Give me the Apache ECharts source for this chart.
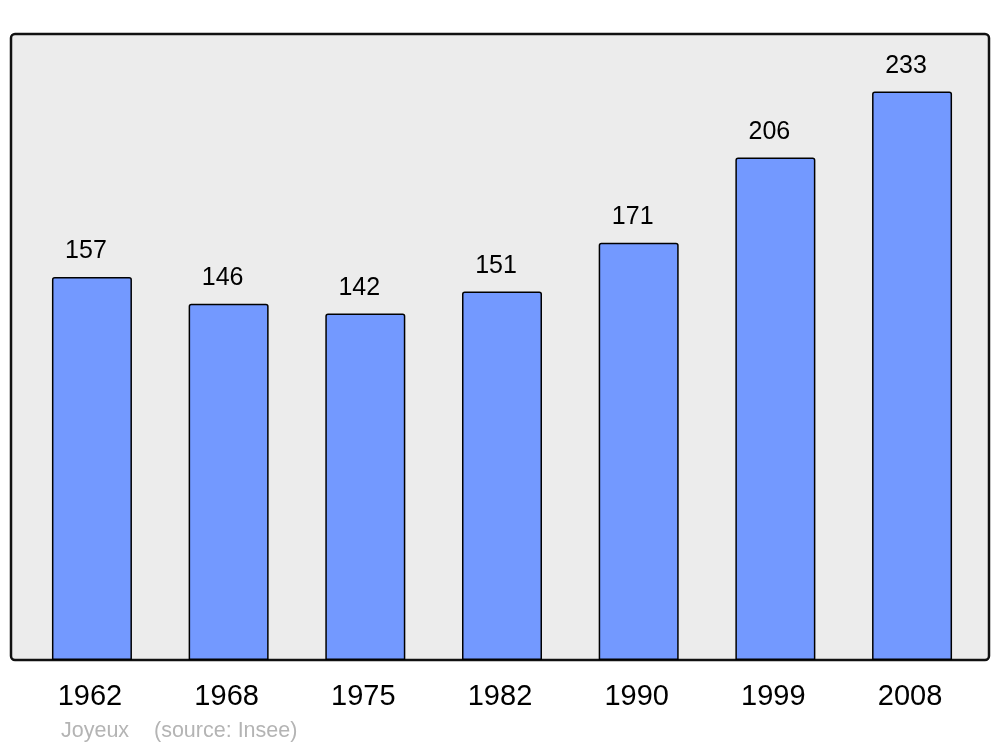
<!DOCTYPE html>
<html>
<head>
<meta charset="utf-8">
<script src="https://cdn.jsdelivr.net/npm/echarts@6/dist/echarts.min.js"></script>
<style>
  html, body { margin: 0; padding: 0; background: #fff; }
  #chart { width: 1000px; height: 747px; }
</style>
</head>
<body>
<div id="chart"></div>
<script>
// données
const years = ['1962', '1968', '1975', '1982', '1990', '1999', '2008']
const population = [157, 146, 142, 151, 171, 206, 233]
const credits = ['Joyeux', '(source: Insee)']

const chart = echarts.init(document.getElementById('chart'))

const option = {
    backgroundColor: '#ffffff',
    animation: false,
    textStyle: { fontFamily: '"Liberation Sans", Arial, sans-serif' },
    graphic: [
        {
            type: 'rect',
            z: -10,
            shape: { x: 11, y: 34, width: 978, height: 626, r: 4 },
            style: { fill: '#ececec', stroke: '#111', lineWidth: 2.5 }
        },
        {
            type: 'text',
            left: 61,
            top: 720,
            style: { text: credits[0], fill: '#b4b4b4', fontSize: 21.5, fontFamily: '"Liberation Sans", Arial, sans-serif' }
        },
        {
            type: 'text',
            left: 154,
            top: 720,
            style: { text: credits[1], fill: '#b4b4b4', fontSize: 21.5, fontFamily: '"Liberation Sans", Arial, sans-serif' }
        }
    ],
    grid: {
        left: 23.6,
        right: 19.6,
        top: 34,
        bottom: 87
    },
    xAxis: {
        type: 'category',
        data: years,
        axisLine: { show: false },
        axisTick: { show: false },
        axisLabel: {
            color: '#000',
            fontSize: 29,
            margin: 22,
            padding: [0, 4, 0, 0]
        }
    },
    yAxis: {
        type: 'value',
        min: 0,
        max: 256.6,
        show: false,
        splitLine: { show: false }
    },
    series: [
        {
            type: 'bar',
            data: population,
            barWidth: 80,
            itemStyle: {
                color: '#7399ff',
                borderColor: '#000',
                borderWidth: 1.5,
                borderRadius: [2, 2, 0, 0]
            },
            label: {
                show: true,
                position: 'top',
                distance: 13,
                offset: [-6, 0],
                color: '#000',
                fontSize: 25
            }
        }
    ]
}

chart.setOption(option)
</script>
</body>
</html>
